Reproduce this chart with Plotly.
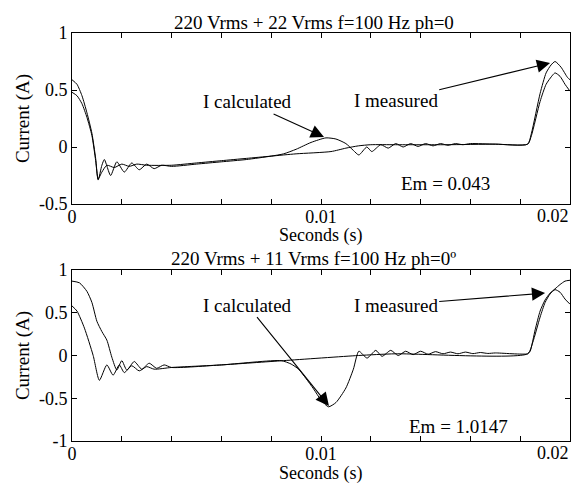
import plotly.graph_objects as go

# ---------------- data ----------------
# Top panel: 220 Vrms + 22 Vrms, f=100 Hz, ph=0
t_top_meas = [0, 0.0002, 0.0004, 0.0006, 0.0008, 0.00095, 0.00105, 0.0012, 0.0014, 0.0017,
              0.002, 0.0023, 0.0026, 0.003, 0.004, 0.005, 0.006, 0.007, 0.008, 0.009,
              0.0104, 0.011, 0.0115, 0.012, 0.013, 0.015, 0.017, 0.0183, 0.01845, 0.0188,
              0.01904, 0.01924, 0.0194, 0.01964, 0.0199, 0.02]
i_top_meas = [0.59, 0.55, 0.45, 0.30, 0.12, -0.10, -0.28, -0.22, -0.16, -0.18,
              -0.15, -0.17, -0.15, -0.16, -0.16, -0.14, -0.12, -0.10, -0.08, -0.06,
              -0.04, -0.01, 0.01, 0.02, 0.02, 0.02, 0.025, 0.025, 0.12, 0.47,
              0.65, 0.72, 0.75, 0.70, 0.61, 0.59]

t_top_calc = [0, 0.0002, 0.0004, 0.0006, 0.0008, 0.00095, 0.00105, 0.0012, 0.0013, 0.00155,
              0.0018, 0.0021, 0.0024, 0.0027, 0.003, 0.0033, 0.0036, 0.004, 0.005, 0.006,
              0.007, 0.008, 0.0085, 0.009, 0.0096, 0.0102, 0.0106, 0.011, 0.0113, 0.01152,
              0.01184, 0.01204, 0.0124, 0.0127, 0.013, 0.0133, 0.0136, 0.0139, 0.0142, 0.0145,
              0.0148, 0.0151, 0.0154, 0.0157, 0.016, 0.017, 0.0183, 0.01845, 0.0188, 0.01904,
              0.0193, 0.0194, 0.0196, 0.0198, 0.02]
i_top_calc = [0.48, 0.45, 0.38, 0.26, 0.10, -0.12, -0.29, -0.16, -0.11, -0.25,
              -0.13, -0.22, -0.14, -0.20, -0.15, -0.19, -0.16, -0.17, -0.15, -0.13,
              -0.11, -0.08, -0.06, -0.02, 0.04, 0.08, 0.07, 0.03, -0.03, -0.07,
              0.0, -0.04, 0.02, -0.01, 0.03, 0.0, 0.03, 0.005, 0.03, 0.01,
              0.03, 0.015, 0.03, 0.02, 0.03, 0.025, 0.025, 0.10, 0.40, 0.55,
              0.63, 0.65, 0.62, 0.55, 0.49]

# Bottom panel: 220 Vrms + 11 Vrms, f=100 Hz, ph=0
t_bot_meas = [0, 0.0002, 0.0005, 0.00085, 0.0011, 0.0014, 0.00165, 0.0019, 0.0021, 0.0024,
              0.0027, 0.003, 0.0033, 0.004, 0.006, 0.0085, 0.0115, 0.013, 0.0183, 0.0185,
              0.0188, 0.019, 0.0192, 0.0194, 0.0196, 0.0198, 0.02]
i_bot_meas = [0.58, 0.52, 0.32, 0.0, -0.29, -0.11, -0.23, -0.11, -0.20, -0.12,
              -0.18, -0.13, -0.16, -0.14, -0.11, -0.06, 0.0, 0.02, 0.02, 0.15,
              0.45, 0.62, 0.72, 0.77, 0.74, 0.66, 0.60]

t_bot_calc = [0, 0.0003, 0.0006, 0.0008, 0.001, 0.0012, 0.0014, 0.0016, 0.0018, 0.002,
              0.0022, 0.0025, 0.0028, 0.0031, 0.0034, 0.0037, 0.004, 0.006, 0.0084, 0.0088,
              0.0091, 0.0094, 0.0097, 0.01, 0.0103, 0.0106, 0.011, 0.0113, 0.01152, 0.01185,
              0.0122, 0.01245, 0.0128, 0.0131, 0.0134, 0.0137, 0.014, 0.0143, 0.0146, 0.0149,
              0.0152, 0.0155, 0.0158, 0.0161, 0.0164, 0.0167, 0.017, 0.0183, 0.0184, 0.0186,
              0.0188, 0.019, 0.0192, 0.0194, 0.0196, 0.0198, 0.02]
i_bot_calc = [0.87, 0.85, 0.75, 0.62, 0.40, 0.28, 0.18, -0.02, -0.17, -0.06,
              -0.17, -0.07, -0.16, -0.09, -0.15, -0.11, -0.14, -0.11, -0.06, -0.10,
              -0.16, -0.27, -0.39, -0.52, -0.60, -0.55, -0.38, -0.16, 0.05, -0.03,
              0.06, -0.01, 0.06, 0.0, 0.05, 0.01, 0.05, 0.015, 0.045, 0.02,
              0.04, 0.02, 0.04, 0.022, 0.035, 0.024, 0.03, 0.02, 0.05, 0.30,
              0.52, 0.65, 0.73, 0.78, 0.83, 0.87, 0.88]

x_tick_vals = [0, 0.002, 0.004, 0.006, 0.008, 0.01, 0.012, 0.014, 0.016, 0.018, 0.02]
x_tick_text = ["0", "", "", "", "", "0.01", "", "", "", "", "0.02"]
y_top_vals = [-0.5, 0, 0.5, 1]
y_top_text = ["-0.5", "0", "0.5", "1"]
y_bot_vals = [-1, -0.5, 0, 0.5, 1]
y_bot_text = ["-1", "-0.5", "0", "0.5", "1"]

titles = ["220 Vrms + 22 Vrms f=100 Hz ph=0", "220 Vrms + 11 Vrms f=100 Hz ph=0\u00ba"]
x_title = "Seconds (s)"
y_title = "Current (A)"
em_texts = ["Em = 0.043", "Em = 1.0147"]

# ---------------- figure ----------------
FONT = "Liberation Serif"
FS = 18
line = dict(color="black", width=1, shape="spline", smoothing=0.6)

fig = go.Figure()
fig.add_trace(go.Scatter(x=t_top_meas, y=i_top_meas, mode="lines", line=line,
                         xaxis="x", yaxis="y", name="I measured"))
fig.add_trace(go.Scatter(x=t_top_calc, y=i_top_calc, mode="lines", line=line,
                         xaxis="x", yaxis="y", name="I calculated"))
fig.add_trace(go.Scatter(x=t_bot_meas, y=i_bot_meas, mode="lines", line=line,
                         xaxis="x2", yaxis="y2", name="I measured"))
fig.add_trace(go.Scatter(x=t_bot_calc, y=i_bot_calc, mode="lines", line=line,
                         xaxis="x2", yaxis="y2", name="I calculated"))

# visible labels: 0.02 drawn as annotation (right-aligned at the frame edge)
x_text_shown = [s if s != x_tick_text[-1] else "" for s in x_tick_text]

axis_common = dict(showline=True, linecolor="black", linewidth=1, mirror="allticks",
                   ticks="inside", ticklen=5, tickcolor="black", tickwidth=1,
                   showgrid=False, zeroline=False,
                   tickfont=dict(family=FONT, size=FS, color="black"))

# plot area: y 33..441 px (408 px); top box 33..204, bottom box 270..441
top_dom = [237 / 408, 1.0]
bot_dom = [0.0, 171 / 408]

fig.update_layout(
    width=580, height=483,
    margin=dict(l=72, r=10, t=33, b=42),
    paper_bgcolor="white", plot_bgcolor="white",
    showlegend=False,
    font=dict(family=FONT, size=FS, color="black"),
    xaxis=dict(**axis_common, domain=[0, 1], anchor="y", range=[0, 0.02],
               tickvals=x_tick_vals, ticktext=x_text_shown, ticklabelstandoff=-4),
    yaxis=dict(**axis_common, domain=top_dom, anchor="x", range=[-0.5, 1],
               tickvals=y_top_vals, ticktext=y_top_text,
               title=dict(text=y_title, font=dict(family=FONT, size=FS + 1), standoff=4)),
    xaxis2=dict(**axis_common, domain=[0, 1], anchor="y2", range=[0, 0.02],
                tickvals=x_tick_vals, ticktext=x_text_shown, ticklabelstandoff=-4),
    yaxis2=dict(**axis_common, domain=bot_dom, anchor="x2", range=[-1, 1],
                tickvals=y_bot_vals, ticktext=y_bot_text,
                title=dict(text=y_title, font=dict(family=FONT, size=FS + 1), standoff=4)),
)

txt = dict(showarrow=False, borderpad=0)
ann = []
# panel titles
ann.append(dict(text=titles[0], xref="paper", yref="paper", x=0.485, y=top_dom[1], yshift=11,
                xanchor="center", yanchor="middle", font=dict(size=FS + 1), **txt))
ann.append(dict(text=titles[1], xref="paper", yref="paper", x=0.485, y=bot_dom[1], yshift=12,
                xanchor="center", yanchor="middle", font=dict(size=FS + 1), **txt))
# x-axis titles
ann.append(dict(text=x_title, xref="paper", yref="y domain", x=0.5, y=0, yshift=-32,
                xanchor="center", yanchor="middle", **txt))
ann.append(dict(text=x_title, xref="paper", yref="y2 domain", x=0.5, y=0, yshift=-32,
                xanchor="center", yanchor="middle", **txt))
# 0.02 tick labels
for xr, yr in (("x", "y domain"), ("x2", "y2 domain")):
    ann.append(dict(text=x_tick_text[-1], xref=xr, yref=yr, x=x_tick_vals[-1], y=0, yshift=-1,
                    xanchor="right", yanchor="top", **txt))

arrow = dict(showarrow=True, arrowhead=2, arrowsize=2.4, arrowwidth=1.1, arrowcolor="black")
fa = dict(size=FS + 1)
# top panel arrows
ann.append(dict(text="I calculated", x=0.01012, y=0.088, xref="x", yref="y",
                ax=0.00704, ay=0.395, axref="x", ayref="y", font=fa, **arrow))
ann.append(dict(text="I measured", x=0.0192, y=0.737, xref="x", yref="y",
                ax=0.013, ay=0.41, axref="x", ayref="y", font=fa, **arrow))
ann.append(dict(text=em_texts[0], x=0.015, y=-0.316, xref="x", yref="y", font=fa, **txt))
# bottom panel arrows
ann.append(dict(text="I calculated", x=0.01032, y=-0.59, xref="x2", yref="y2",
                ax=0.00704, ay=0.59, axref="x2", ayref="y2", font=fa, **arrow))
ann.append(dict(text="I measured", x=0.019, y=0.73, xref="x2", yref="y2",
                ax=0.013, ay=0.59, axref="x2", ayref="y2", font=fa, **arrow))
ann.append(dict(text=em_texts[1], x=0.01552, y=-0.825, xref="x2", yref="y2", font=fa, **txt))

fig.update_layout(annotations=ann)
fig.write_html("out.html")
